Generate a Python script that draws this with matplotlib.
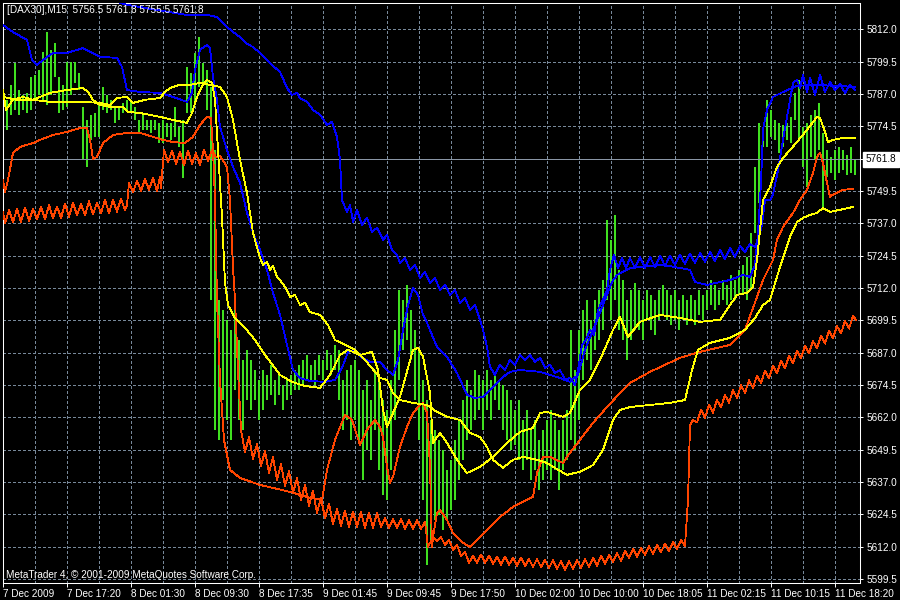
import matplotlib
matplotlib.use("Agg")
import matplotlib.pyplot as plt
from matplotlib.transforms import blended_transform_factory

plt.rcParams['font.family'] = ['Liberation Sans', 'DejaVu Sans']

title = "[DAX30],M15  5756.5 5761.8 5755.5 5761.8"
copyright_txt = "MetaTrader 4, \u00a9 2001-2009 MetaQuotes Software Corp."
bid = 5761.8

time_labels = ["7 Dec 2009", "7 Dec 17:20", "8 Dec 01:30", "8 Dec 09:30", "8 Dec 17:35",
               "9 Dec 01:45", "9 Dec 09:45", "9 Dec 17:50", "10 Dec 02:00", "10 Dec 10:00",
               "10 Dec 18:05", "11 Dec 02:15", "11 Dec 10:15", "11 Dec 18:20"]
price_ticks = [5599.5, 5612.0, 5624.5, 5637.0, 5649.5, 5662.0, 5674.5, 5687.0, 5699.5,
               5712.0, 5724.5, 5737.0, 5749.5, 5762.0, 5774.5, 5787.0, 5799.5, 5812.0]

# price bars (one entry every 2 M15 bars)
bar_high = [5773.1, 5784.7, 5790.5, 5799.0, 5788.5, 5786.6, 5787.4, 5793.5, 5794.3, 5796.3,
            5803.2, 5810.9, 5804.0, 5806.7, 5793.5, 5790.5, 5799.3, 5799.3, 5799.3, 5795.1,
            5782.0, 5776.9, 5778.9, 5779.6, 5782.7, 5789.7, 5786.6, 5784.7, 5782.0, 5782.0,
            5783.5, 5784.7, 5784.7, 5782.0, 5776.9, 5779.6, 5776.9, 5776.9, 5776.9, 5775.8,
            5776.9, 5775.8, 5775.8, 5782.0, 5774.2, 5776.9, 5797.4, 5795.1, 5802.8, 5809.0,
            5799.0, 5796.3, 5789.7, 5765.4, 5707.4, 5703.5, 5699.7, 5695.8, 5707.4, 5691.9,
            5684.2, 5688.1, 5684.2, 5680.3, 5676.5, 5680.3, 5678.4, 5682.3, 5676.5, 5678.4,
            5674.5, 5676.5, 5678.4, 5680.3, 5682.3, 5684.2, 5686.1, 5682.3, 5684.2, 5686.1,
            5684.2, 5688.1, 5686.1, 5690.0, 5688.1, 5676.5, 5680.3, 5682.3, 5684.2, 5680.3,
            5672.6, 5676.5, 5668.7, 5680.3, 5676.5, 5668.7, 5664.9, 5676.5, 5695.8, 5711.2,
            5707.4, 5713.2, 5703.5, 5695.8, 5688.1, 5676.5, 5668.7, 5661.0, 5657.2, 5653.3,
            5649.4, 5641.7, 5645.6, 5653.3, 5661.0, 5668.7, 5676.5, 5672.6, 5680.3, 5678.4,
            5676.5, 5680.3, 5676.5, 5678.4, 5676.5, 5674.5, 5672.6, 5668.7, 5664.9, 5668.7,
            5661.0, 5664.9, 5657.2, 5661.0, 5653.3, 5657.2, 5661.0, 5664.9, 5661.0, 5657.2,
            5661.0, 5664.9, 5695.8, 5680.3, 5695.8, 5703.5, 5707.4, 5699.7, 5707.4, 5711.2,
            5715.1, 5738.3, 5730.6, 5740.2, 5719.0, 5715.1, 5707.4, 5711.2, 5713.9, 5711.2,
            5707.4, 5711.2, 5709.3, 5707.4, 5711.2, 5713.2, 5711.2, 5709.3, 5711.2, 5707.4,
            5709.3, 5707.4, 5709.3, 5707.4, 5711.2, 5709.3, 5711.2, 5715.1, 5713.2, 5711.2,
            5715.1, 5713.2, 5717.0, 5715.1, 5719.0, 5720.9, 5724.0, 5733.3, 5758.8, 5775.8,
            5774.2, 5784.7, 5780.8, 5776.9, 5775.8, 5775.0, 5775.8, 5778.1, 5787.4, 5792.4,
            5774.2, 5775.8, 5778.9, 5780.8, 5783.5, 5771.9, 5765.4, 5762.6, 5765.4, 5766.5,
            5765.4, 5763.4, 5766.5, 5761.8]
bar_low = [5754.9, 5773.1, 5778.9, 5780.8, 5778.9, 5780.8, 5779.6, 5780.8, 5784.7, 5786.6,
           5784.7, 5782.7, 5786.6, 5793.5, 5779.6, 5780.8, 5782.0, 5786.6, 5791.2, 5788.5,
           5761.5, 5758.8, 5769.2, 5770.4, 5770.4, 5780.8, 5779.6, 5780.8, 5775.8, 5776.9,
           5779.6, 5780.8, 5779.6, 5776.9, 5771.9, 5773.1, 5773.1, 5771.9, 5773.1, 5768.1,
           5768.1, 5770.4, 5769.2, 5770.4, 5766.5, 5754.5, 5779.6, 5779.6, 5783.5, 5789.7,
           5791.2, 5780.8, 5707.4, 5657.2, 5653.3, 5668.7, 5661.0, 5653.3, 5672.6, 5661.0,
           5657.2, 5668.7, 5664.9, 5668.7, 5661.0, 5664.9, 5668.7, 5670.7, 5666.8, 5670.7,
           5664.9, 5668.7, 5670.7, 5672.6, 5672.6, 5674.5, 5676.5, 5676.5, 5674.5, 5678.4,
           5676.5, 5680.3, 5678.4, 5680.3, 5668.7, 5657.2, 5661.0, 5653.3, 5661.0, 5653.3,
           5637.8, 5649.4, 5645.6, 5657.2, 5641.7, 5632.0, 5630.1, 5641.7, 5661.0, 5676.5,
           5688.1, 5691.9, 5684.2, 5668.7, 5653.3, 5630.1, 5605.0, 5614.7, 5622.4, 5624.3,
           5618.5, 5622.4, 5626.2, 5630.1, 5637.8, 5645.6, 5653.3, 5657.2, 5661.0, 5664.9,
           5657.2, 5664.9, 5661.0, 5668.7, 5664.9, 5657.2, 5653.3, 5649.4, 5651.4, 5645.6,
           5641.7, 5645.6, 5637.8, 5641.7, 5634.0, 5637.8, 5641.7, 5637.8, 5641.7, 5634.0,
           5641.7, 5645.6, 5653.3, 5649.4, 5661.0, 5676.5, 5684.2, 5680.3, 5688.1, 5691.9,
           5695.8, 5707.4, 5699.7, 5707.4, 5695.8, 5691.9, 5684.2, 5691.9, 5695.8, 5695.8,
           5691.9, 5699.7, 5695.8, 5693.9, 5699.7, 5701.6, 5699.7, 5697.7, 5699.7, 5695.8,
           5699.7, 5697.7, 5699.7, 5697.7, 5701.6, 5699.7, 5703.5, 5705.4, 5703.5, 5705.4,
           5707.4, 5705.4, 5707.4, 5707.4, 5709.3, 5709.3, 5707.4, 5711.2, 5733.3, 5744.9,
           5766.5, 5766.5, 5770.4, 5769.2, 5764.2, 5766.5, 5769.2, 5768.1, 5776.9, 5769.2,
           5758.8, 5751.0, 5762.6, 5761.5, 5765.4, 5743.3, 5754.9, 5756.5, 5753.8, 5756.5,
           5757.6, 5755.7, 5756.5, 5755.5]

# indicator lines: (bar index, price)
blue_upper = [(46, 5825.2), (62, 5821.4), (77, 5819.4), (92, 5817.5), (102, 5817.5), (107, 5816.7),
              (112, 5812.9), (115, 5810.9), (118.5, 5809.0), (122, 5806.3), (125, 5805.1),
              (128.5, 5802.8), (132, 5800.1), (135, 5797.8), (138.5, 5795.5), (142, 5789.3),
              (144.5, 5786.6), (147, 5787.4), (148.5, 5785.4), (152, 5783.9), (155, 5780.8),
              (158.5, 5778.9), (162, 5775.0), (164.5, 5776.2), (167, 5770.4), (168.5, 5761.5),
              (169.5, 5746.0), (172, 5741.4), (173.5, 5744.1), (175, 5737.5), (177, 5742.2),
              (179.5, 5736.4), (182, 5739.1), (184.5, 5733.7), (187, 5735.2), (190, 5730.6),
              (192, 5732.5), (194.5, 5726.7), (197, 5724.8), (198.5, 5721.7), (201, 5723.6),
              (203.5, 5719.0), (206, 5720.9), (208.5, 5715.9), (211, 5718.2), (213.5, 5714.0),
              (216, 5715.9), (218.5, 5711.2), (221, 5713.2), (223.5, 5709.3), (226, 5711.2),
              (228.5, 5706.2), (231, 5708.2), (233.5, 5703.5), (236, 5705.4), (238.5, 5699.7),
              (240, 5695.8), (242, 5689.2), (243.5, 5681.5), (246, 5678.4), (248.5, 5682.3),
              (251, 5680.3), (253.5, 5684.2), (256, 5682.3), (258.5, 5686.1), (261, 5684.2),
              (263.5, 5686.1), (266, 5683.4), (268.5, 5685.0), (271, 5681.1), (273.5, 5682.3),
              (276, 5679.2), (278.5, 5680.3), (281, 5676.5), (283.5, 5677.2), (286, 5674.5),
              (287.5, 5680.3), (289.5, 5690.0), (291.5, 5691.9), (293.5, 5695.8), (295.5, 5693.9),
              (297.5, 5703.5), (300, 5707.4), (302, 5711.2), (303.5, 5719.0), (305.5, 5724.8),
              (307.5, 5719.7), (309.5, 5723.6), (311.5, 5719.7), (313.5, 5723.6), (316, 5719.7),
              (318.5, 5724.0), (321, 5719.7), (323.5, 5724.0), (326, 5720.1), (328.5, 5724.4),
              (331, 5720.5), (333.5, 5724.4), (336, 5720.9), (338.5, 5724.8), (341, 5721.3),
              (343.5, 5725.2), (346, 5721.7), (348.5, 5725.5), (351, 5722.1), (353.5, 5725.9),
              (356, 5722.4), (358.5, 5726.7), (361, 5723.2), (363.5, 5727.5), (366, 5724.0),
              (368.5, 5728.2), (371, 5725.9), (373.5, 5729.0), (376, 5727.9), (377.5, 5730.6),
              (379.5, 5736.4), (381, 5746.0), (383.5, 5746.0), (385, 5748.0), (387.5, 5757.6),
              (390, 5769.2), (392, 5778.1), (393.5, 5784.7), (395, 5791.2), (397, 5792.4),
              (398.5, 5789.3), (400, 5794.3), (402, 5787.7), (403.5, 5793.2), (406, 5786.6),
              (408.5, 5794.3), (411, 5787.7), (413.5, 5791.6), (416, 5788.5), (418.5, 5790.8),
              (421, 5787.4), (423.5, 5790.5), (426, 5788.5)]

blue_mid = [(0, 5813.6), (5, 5810.9), (12, 5807.8), (14.5, 5800.1), (17, 5798.2), (20, 5800.1),
            (25, 5802.8), (32, 5802.8), (40, 5804.7), (48.5, 5801.3), (57, 5800.9), (59.5, 5797.4),
            (62, 5788.5), (68.5, 5787.7), (78.5, 5787.4), (85, 5785.8), (92, 5783.9), (94.5, 5787.4),
            (96, 5796.3), (98.5, 5804.0), (102, 5805.9), (103.5, 5804.7), (105, 5793.5), (107, 5784.7),
            (108.5, 5774.2), (112, 5765.3), (115, 5758.8), (118.5, 5752.6), (122, 5741.0),
            (125, 5733.3), (128.5, 5726.7), (132, 5719.0), (135, 5710.1), (138.5, 5701.6),
            (142, 5690.0), (145, 5680.3), (148.5, 5677.2), (153.5, 5676.1), (161, 5675.7),
            (166, 5676.5), (169.5, 5681.1), (172.5, 5687.3), (176, 5688.1), (179.5, 5685.0),
            (183.5, 5683.4), (188.5, 5683.4), (192, 5680.3), (195, 5678.4), (197.5, 5684.2),
            (200, 5695.8), (202.5, 5705.4), (205, 5712.0), (207.5, 5709.3), (210, 5701.6),
            (212, 5698.5), (217, 5689.2), (222, 5685.4), (227, 5679.2), (232, 5670.7), (236, 5669.5),
            (240, 5669.9), (245, 5673.8), (250, 5677.6), (253.5, 5679.6), (258.5, 5680.3),
            (268.5, 5679.6), (278.5, 5677.2), (283.5, 5675.7), (287.5, 5678.4), (291, 5688.1),
            (296, 5697.7), (301, 5707.4), (304.5, 5714.3), (307, 5717.0), (313.5, 5719.7),
            (330, 5720.9), (343.5, 5719.0), (346, 5714.3), (352, 5713.2), (363.5, 5715.1),
            (370, 5717.0), (373.5, 5716.3), (376, 5720.9), (377.5, 5733.3), (379, 5752.6),
            (380, 5773.1), (382, 5780.8), (385, 5785.8), (390, 5787.7), (397, 5790.1),
            (406, 5790.5), (416, 5790.1), (426, 5789.7)]

yellow_fast = [(0, 5788.5), (1.5, 5780.8), (5, 5784.7), (10, 5785.8), (15, 5784.7), (23.5, 5787.4),
               (32, 5788.5), (40, 5789.3), (42.5, 5787.7), (45, 5784.7), (48.5, 5782.7), (53.5, 5782.0),
               (60, 5782.0), (62.5, 5780.0), (68.5, 5779.6), (78.5, 5778.1), (85, 5776.9), (92, 5775.8),
               (94.5, 5779.6), (97, 5785.8), (100, 5790.5), (102, 5792.4), (104.5, 5791.2), (106, 5784.7),
               (107.5, 5765.4), (109.5, 5739.5), (111, 5714.0), (112.5, 5705.4), (116, 5700.4),
               (121, 5696.6), (126, 5691.9), (131, 5686.1), (138.5, 5678.4), (144.5, 5675.7),
               (151, 5674.1), (158.5, 5673.4), (163.5, 5678.4), (168.5, 5686.1), (172.5, 5688.1),
               (178.5, 5686.1), (184.5, 5687.3), (187.5, 5680.3), (190, 5664.9), (192, 5658.3),
               (195, 5663.7), (198.5, 5669.9), (205, 5688.1), (207.5, 5688.8), (210, 5685.4),
               (213.5, 5671.4), (215, 5652.1), (218.5, 5656.0), (222, 5652.1), (227, 5645.6),
               (232, 5640.5), (238.5, 5642.9), (245, 5646.7), (252, 5652.1), (258.5, 5656.4),
               (265, 5657.9), (268.5, 5663.7), (272, 5664.1), (280, 5662.2), (283.5, 5663.7),
               (288.5, 5672.6), (293.5, 5676.5), (298.5, 5684.2), (305, 5695.8), (308.5, 5700.8),
               (312.5, 5693.1), (318.5, 5698.9), (328.5, 5701.6), (338.5, 5700.4), (348.5, 5698.9),
               (358.5, 5699.7), (367, 5709.3), (372, 5710.1), (375, 5712.4), (377, 5722.8),
               (380, 5746.0), (383.5, 5751.0), (387, 5758.8), (390, 5762.2), (397, 5768.4),
               (402, 5773.1), (407, 5778.1), (408.5, 5777.7), (411, 5772.3), (412.5, 5768.4),
               (415, 5769.2), (420, 5770.0), (426, 5770.0)]

yellow_slow = [(0, 5785.8), (7, 5784.7), (15, 5784.7), (23.5, 5783.9), (32, 5783.9), (40, 5783.9),
               (48.5, 5783.5), (53.5, 5782.7), (57, 5785.4), (62, 5785.8), (65, 5783.5), (71, 5784.7),
               (78.5, 5785.4), (81, 5787.7), (83.5, 5789.3), (88.5, 5790.5), (93.5, 5790.5),
               (98.5, 5791.2), (103.5, 5790.5), (108.5, 5789.7), (112, 5785.8), (115, 5776.9),
               (118.5, 5761.5), (122, 5748.7), (125, 5733.3), (128.5, 5723.6), (130, 5720.9),
               (132, 5722.1), (133.5, 5719.0), (135, 5720.5), (137, 5716.3), (138.5, 5715.1),
               (142, 5711.2), (143.5, 5708.5), (146, 5709.3), (148.5, 5705.4), (151, 5706.2),
               (153.5, 5702.7), (158.5, 5701.6), (162.5, 5697.7), (166, 5691.9), (171, 5690.0),
               (176, 5688.1), (181, 5684.2), (186, 5679.6), (188.5, 5677.2), (192, 5676.5),
               (195, 5671.4), (198.5, 5668.7), (205, 5667.6), (212, 5666.8), (217, 5664.1),
               (222, 5662.2), (228.5, 5661.0), (233.5, 5656.0), (238.5, 5654.4), (242, 5650.6),
               (245, 5645.6), (250, 5642.5), (255, 5645.6), (260, 5646.7), (267, 5645.6),
               (272, 5644.4), (275, 5642.9), (282, 5639.8), (288.5, 5641.0), (295, 5643.6),
               (300, 5649.4), (305, 5661.0), (308.5, 5664.9), (313.5, 5666.0), (323.5, 5666.8),
               (333.5, 5667.6), (341, 5668.7), (344.5, 5680.3), (347.5, 5688.1), (353.5, 5690.8),
               (363.5, 5692.7), (371, 5695.8), (376, 5700.4), (380, 5705.4), (383.5, 5707.4),
               (388.5, 5720.1), (393.5, 5731.7), (397, 5737.5), (400, 5739.1), (403.5, 5740.2),
               (407, 5741.0), (410, 5742.9), (413.5, 5741.4), (418.5, 5742.2), (425, 5743.3)]

red_mid = [(0, 5753.7), (1, 5749.1), (2.5, 5753.7), (5, 5764.2), (8.5, 5766.5), (15, 5768.0),
           (18.5, 5769.2), (25, 5771.1), (32, 5772.3), (38.5, 5773.8), (42, 5773.8), (43.5, 5769.2),
           (45, 5761.9), (47, 5762.6), (50, 5768.0), (55, 5771.1), (62, 5771.9), (68.5, 5771.9),
           (72, 5771.1), (80, 5769.2), (85, 5768.4), (91, 5768.0), (95, 5770.4), (98.5, 5775.0),
           (102, 5778.1), (104, 5777.7), (105, 5765.4), (106, 5746.0), (107, 5707.4), (108.5, 5676.5),
           (110.5, 5653.3), (113.5, 5641.7), (118.5, 5638.6), (128.5, 5635.9), (143.5, 5633.2),
           (153.5, 5630.9), (159.5, 5630.1), (162, 5641.7), (166, 5653.3), (171, 5663.0),
           (174.5, 5661.0), (178.5, 5651.4), (182, 5657.2), (186, 5661.0), (188.5, 5658.3),
           (190, 5654.4), (192, 5642.9), (193.5, 5636.7), (195, 5639.0), (198.5, 5650.6),
           (202, 5658.3), (205, 5663.7), (208.5, 5666.8), (210, 5667.6), (212, 5663.7),
           (213.5, 5642.9), (214.5, 5611.9), (215, 5615.8), (217, 5625.1), (218.5, 5626.2),
           (222, 5622.4), (225, 5617.3), (230, 5613.5), (233.5, 5611.9), (237, 5614.6),
           (242, 5618.5), (248.5, 5623.5), (255, 5627.4), (262, 5630.1), (265, 5631.3),
           (267, 5640.5), (270, 5646.7), (273.5, 5646.7), (280, 5644.4), (283.5, 5648.3),
           (288.5, 5653.3), (295, 5659.9), (302, 5666.0), (308.5, 5671.4), (313.5, 5675.3),
           (323.5, 5679.6), (338.5, 5685.0), (348.5, 5687.3), (363.5, 5690.0), (371, 5695.8),
           (377, 5708.5), (380, 5715.1), (385, 5722.8), (387, 5730.6), (390, 5735.6), (395, 5741.0),
           (398.5, 5746.0), (402, 5749.9), (405, 5756.5), (407, 5762.6), (408.5, 5764.2),
           (410, 5760.3), (412, 5752.6), (413.5, 5747.2), (415, 5748.0), (420, 5749.9), (425, 5750.3)]

red_lower = [(0, 5741.4), (1, 5737.0), (3, 5742.0), (5, 5737.5), (7, 5742.5), (9, 5737.5), (11, 5743.0),
             (13, 5738.0), (15, 5742.5), (17, 5738.5), (19, 5743.5), (21, 5738.5), (23, 5744.0),
             (25, 5739.0), (27, 5743.5), (29, 5739.0), (31, 5744.5), (33, 5739.5), (35, 5745.0),
             (37, 5740.0), (39, 5744.5), (41, 5740.0), (43, 5745.5), (45, 5740.5), (47, 5745.0),
             (49, 5741.0), (51, 5746.0), (53, 5741.0), (55, 5746.0), (57, 5741.5), (59, 5746.5),
             (61, 5742.0), (62, 5744.0), (63, 5752.5), (65, 5749.0), (67, 5753.5), (69, 5749.5),
             (71, 5754.0), (73, 5750.0), (75, 5754.5), (77, 5749.5), (78.5, 5755.0), (79, 5750.5),
             (80.5, 5765.5), (82.5, 5760.5), (84.5, 5765.0), (86.5, 5760.0), (88.5, 5764.5),
             (90.5, 5759.5), (92.5, 5765.0), (94.5, 5760.0), (96.5, 5764.0), (98.5, 5759.5),
             (100.5, 5765.5), (102.5, 5761.0), (104.5, 5765.5), (106.5, 5762.5), (108.5, 5763.0),
             (112, 5758.8), (113.5, 5746.0), (115, 5720.0), (116, 5707.4), (117.5, 5680.0),
             (119, 5657.2), (121, 5648.6), (123, 5654.4), (125, 5645.9), (127, 5651.7), (129, 5643.2),
             (131, 5649.0), (133, 5640.5), (135, 5646.7), (137, 5637.8), (139, 5644.0), (141, 5635.5),
             (143, 5641.3), (145, 5632.8), (147, 5638.6), (149, 5630.1), (151, 5635.9), (153, 5627.8),
             (155, 5633.6), (157, 5625.1), (159, 5630.9), (161, 5623.1), (163, 5628.6), (165, 5620.8),
             (167, 5626.6), (169, 5620.1), (171, 5625.9), (173, 5619.7), (175, 5625.5), (177, 5619.7),
             (179, 5625.5), (181, 5619.3), (183, 5625.1), (185, 5619.3), (187, 5625.1), (189, 5619.7),
             (191, 5623.1), (193, 5619.3), (195, 5622.8), (197, 5619.3), (199, 5622.8), (201, 5618.9),
             (203, 5622.4), (205, 5618.9), (207, 5622.4), (209, 5618.9), (211, 5621.6), (212.5, 5611.9),
             (215, 5615.8), (217, 5614.3), (219, 5615.8), (221, 5612.7), (223, 5614.7), (225, 5610.8),
             (227, 5612.7), (229, 5608.5), (231, 5610.0), (233, 5605.8), (235, 5608.5), (237, 5605.8),
             (239, 5608.9), (241, 5605.8), (243, 5608.5), (245, 5605.4), (247, 5608.1), (249, 5605.0),
             (251, 5608.1), (253, 5605.0), (255, 5607.7), (257, 5604.6), (259, 5607.7), (261, 5604.6),
             (263, 5607.3), (265, 5604.2), (267, 5607.3), (269, 5604.2), (271, 5606.9), (273, 5603.8),
             (275, 5606.9), (277, 5603.4), (279, 5606.5), (281, 5603.1), (283, 5606.5), (285, 5603.4),
             (287, 5606.9), (289, 5603.8), (291, 5607.3), (293, 5604.2), (295, 5607.7), (297, 5604.6),
             (299, 5608.5), (301, 5605.4), (303, 5608.9), (305, 5606.2), (307, 5609.6), (309, 5606.5),
             (311, 5610.4), (313, 5607.7), (315, 5611.2), (317, 5608.1), (319, 5611.5), (321, 5608.9),
             (323, 5612.3), (325, 5609.2), (327, 5612.7), (329, 5610.0), (331, 5613.1), (333, 5610.4),
             (335, 5613.9), (337, 5611.2), (339, 5614.6), (341, 5612.3), (342.5, 5630.1),
             (343.5, 5659.1), (345, 5661.0), (347, 5660.0), (349, 5664.9), (351, 5661.9), (353, 5666.8),
             (355, 5663.8), (357, 5668.7), (359, 5665.8), (361, 5670.6), (363, 5667.7), (365, 5672.5),
             (367, 5669.5), (369, 5674.4), (371, 5671.5), (373, 5676.3), (375, 5673.4), (377, 5678.2),
             (379, 5675.3), (381, 5680.1), (383, 5677.2), (385, 5682.0), (387, 5679.1), (389, 5683.9),
             (391, 5681.0), (393, 5685.8), (395, 5682.9), (397, 5687.8), (399, 5684.8), (401, 5689.6),
             (403, 5686.7), (405, 5691.5), (407, 5688.6), (409, 5693.5), (411, 5690.5), (413, 5695.4),
             (415, 5692.5), (417, 5697.3), (419, 5694.4), (421, 5699.2), (423, 5696.3), (425, 5701.1),
             (426.5, 5699.7)]

# ---------------------------------------------------------------- drawing
W, H = 900, 600
fig = plt.figure(figsize=(9, 6), dpi=100, facecolor='black')
ax = fig.add_axes([3 / W, 17 / H, 857 / W, 580.5 / H])
ax.set_facecolor('black')
ax.set_xlim(0, 428.5)
ax.set_ylim(5598.0, 5822.3)

grid_col = '#778899'
for p in price_ticks:
    ax.axhline(p, color=grid_col, lw=0.6, ls=(0, (3.5, 3.5)), zorder=1, antialiased=False)
n_bar_slots = 2 * len(bar_high)
for gx in range(16, n_bar_slots, 16):
    ax.axvline(gx, color=grid_col, lw=0.6, ls=(0, (3.5, 3.5)), zorder=1, antialiased=False)

bar_x = [2 * i for i in range(len(bar_high))]
ax.vlines(bar_x, bar_low, bar_high, colors='#40e020', linewidth=1.3, zorder=2,
          antialiased=False)

ax.axhline(bid, color='#8a96a6', lw=0.6, zorder=2.5, antialiased=False)

def draw(series, color):
    xs = [p[0] for p in series]
    ys = [p[1] for p in series]
    ax.plot(xs, ys, color=color, lw=0.6, zorder=3, antialiased=False)

draw(blue_upper, '#0000ff')
draw(blue_mid, '#0000ff')
draw(red_lower, '#ff4500')
draw(red_mid, '#ff4500')
draw(yellow_slow, '#ffff00')
draw(yellow_fast, '#ffff00')

for s in ax.spines.values():
    s.set_color('white')
    s.set_linewidth(0.75)

fs = 7.2
ax.yaxis.tick_right()
ax.set_yticks(price_ticks)
ax.set_yticklabels(['' if abs(p - bid) < 1 else f"{p:.1f}" for p in price_ticks])
ax.tick_params(axis='y', colors='white', labelcolor='white', labelsize=fs,
               length=2.5, width=0.7, pad=2.5, direction='out')

ax.set_xticks([32 * i for i in range(len(time_labels))])
ax.set_xticklabels(time_labels)
for lbl in ax.get_xticklabels():
    lbl.set_horizontalalignment('left')
ax.tick_params(axis='x', colors='white', labelcolor='white', labelsize=fs,
               length=3, width=0.7, pad=1.5, direction='out')

trans = blended_transform_factory(ax.transAxes, ax.transData)
ax.annotate(f"{bid:.1f}", xy=(1, bid), xycoords=trans, xytext=(6, 0),
            textcoords='offset pixels', ha='left', va='center', color='black',
            fontsize=fs, bbox=dict(boxstyle='square,pad=0.25', fc='white', ec='white'),
            annotation_clip=False)

fig.text(7 / W, 1 - 10 / H, title, color='white', fontsize=fs, ha='left', va='center')
fig.text(6 / W, 1 - 575 / H, copyright_txt, color='white', fontsize=fs, ha='left', va='center')

fig.savefig('out.png', dpi=100, facecolor='black')
